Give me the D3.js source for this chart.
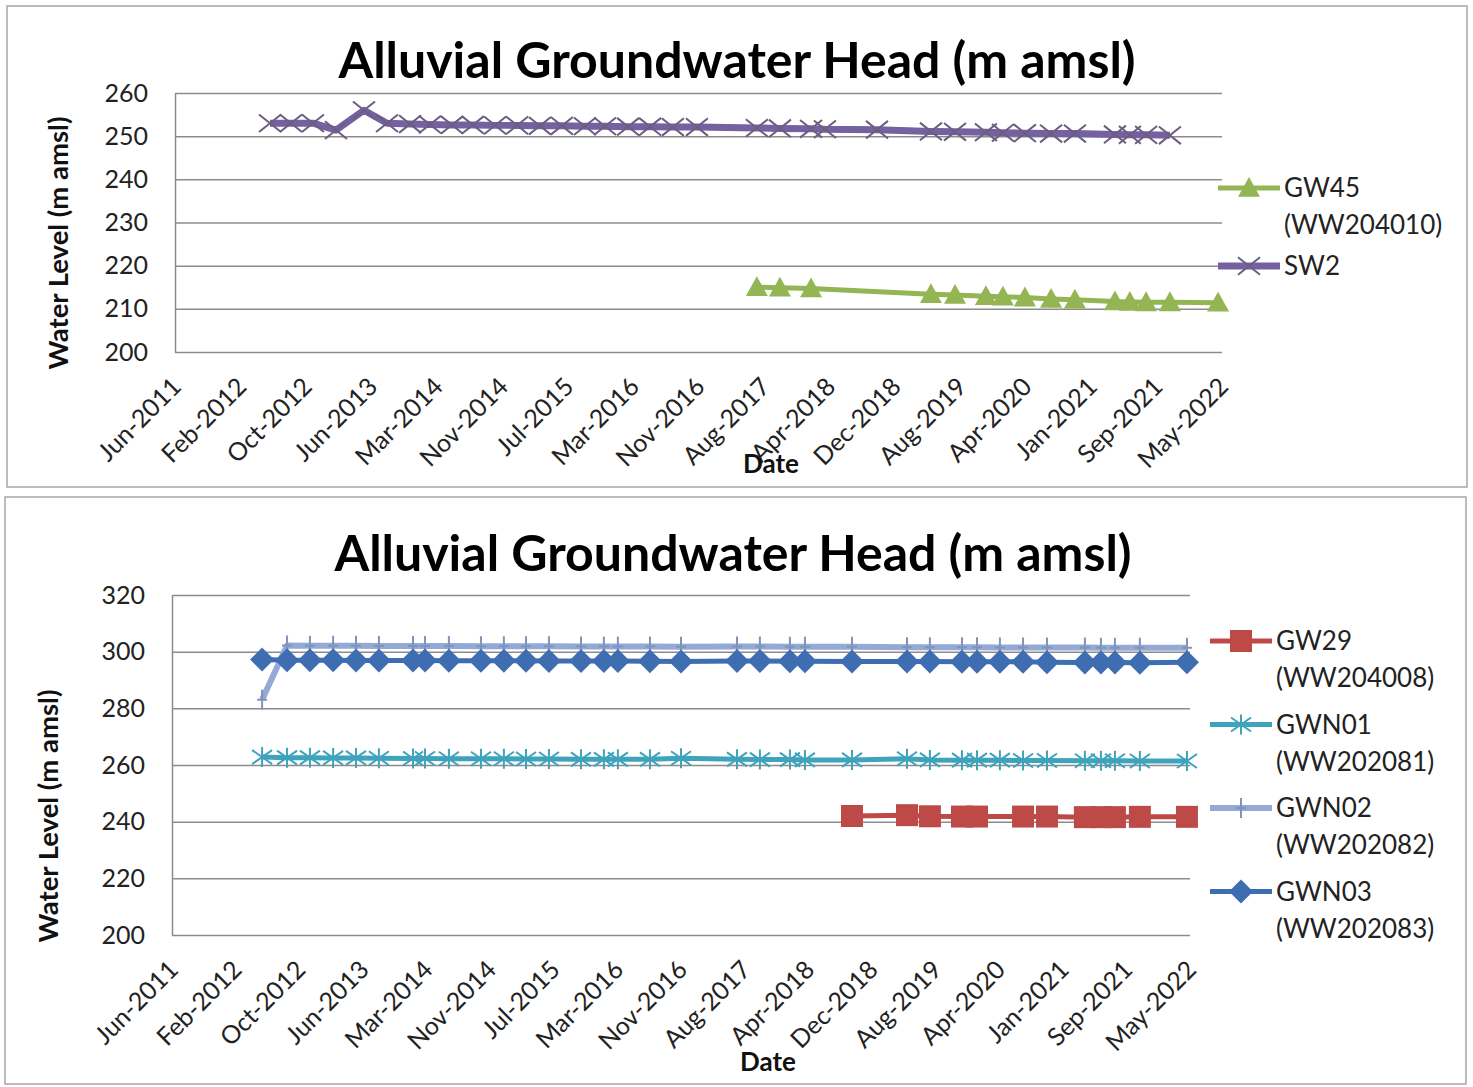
<!DOCTYPE html>
<html>
<head>
<meta charset="utf-8">
<script src="https://d3js.org/d3.v7.min.js"></script>
<style>
  body { margin: 0; background: #fff; }
</style>
</head>
<body>
<div class="chart"></div>
<script>
var svgWidth = 1473;
var svgHeight = 1087;
var fontFamily = "Lato, 'Open Sans', sans-serif";

// x axis: Excel date axis, one label every 250 days from 5 Jun 2011
var axisStartDate = "2011-06-05";
var tickStepDays = 250;
var xTickLabels = ["Jun-2011", "Feb-2012", "Oct-2012", "Jun-2013", "Mar-2014", "Nov-2014",
  "Jul-2015", "Mar-2016", "Nov-2016", "Aug-2017", "Apr-2018", "Dec-2018", "Aug-2019",
  "Apr-2020", "Jan-2021", "Sep-2021", "May-2022"];

// ---- top chart ----
var topYTicks = [200, 210, 220, 230, 240, 250, 260];

var sw2Dates = ["2012-06-02", "2012-08-21", "2012-11-13", "2013-02-09", "2013-05-27", "2013-08-23",
  "2013-11-19", "2014-02-03", "2014-04-28", "2014-07-17", "2014-10-10", "2015-01-02", "2015-03-30",
  "2015-06-22", "2015-09-18", "2015-12-04", "2016-03-01", "2016-05-24", "2016-08-19", "2016-11-19",
  "2017-07-06", "2017-10-02", "2018-01-29", "2018-03-23", "2018-10-08", "2019-05-02", "2019-08-02",
  "2019-11-28", "2020-02-01", "2020-04-25", "2020-08-03", "2020-11-02", "2021-04-04", "2021-05-31",
  "2021-08-01", "2021-10-31"];
var sw2Levels = [253.0, 253.0, 253.0, 251.4, 256.0, 253.0, 252.8, 252.7, 252.6, 252.6, 252.5, 252.5,
  252.4, 252.4, 252.3, 252.3, 252.2, 252.2, 252.1, 252.1, 251.9, 251.8, 251.7, 251.6, 251.5, 251.1,
  251.0, 250.9, 250.8, 250.7, 250.6, 250.6, 250.4, 250.3, 250.3, 250.2];

var gw45Dates = ["2017-07-06", "2017-10-02", "2018-01-29", "2019-05-02", "2019-08-02", "2019-11-28",
  "2020-02-01", "2020-04-25", "2020-08-03", "2020-11-02", "2021-04-04", "2021-05-31", "2021-08-01",
  "2021-10-31", "2022-05-03"];
var gw45Levels = [215.0, 214.9, 214.7, 213.4, 213.2, 212.9, 212.8, 212.6, 212.3, 212.1, 211.7, 211.6,
  211.5, 211.5, 211.4];

// ---- bottom chart ----
var bottomYTicks = [200, 220, 240, 260, 280, 300, 320];

var gwnDates = ["2012-05-24", "2012-08-30", "2012-11-28", "2013-02-27", "2013-05-28", "2013-08-26",
  "2014-01-07", "2014-02-23", "2014-05-28", "2014-10-01", "2014-12-30", "2015-03-27", "2015-06-25",
  "2015-10-29", "2016-01-27", "2016-03-22", "2016-07-26", "2016-11-25", "2017-07-03", "2017-10-01",
  "2018-01-27", "2018-03-27", "2018-09-28", "2019-05-02", "2019-07-31", "2019-12-04", "2020-02-01",
  "2020-05-01", "2020-07-31", "2020-11-02", "2021-03-31", "2021-06-02", "2021-07-27", "2021-11-02",
  "2022-05-06"];
var gwn01Levels = [262.8, 262.6, 262.6, 262.5, 262.5, 262.4, 262.3, 262.3, 262.2, 262.2, 262.2, 262.1,
  262.1, 262.0, 262.0, 262.0, 262.0, 262.4, 262.0, 261.9, 261.9, 261.8, 261.8, 262.2, 261.8, 261.7,
  261.7, 261.7, 261.6, 261.6, 261.5, 261.5, 261.5, 261.4, 261.4];
var gwn02Levels = [283.0, 302.2, 302.1, 302.1, 302.1, 302.0, 302.0, 302.0, 302.0, 301.9, 301.9, 301.9,
  301.9, 301.8, 301.8, 301.8, 301.8, 301.7, 301.8, 301.8, 301.7, 301.7, 301.7, 301.6, 301.6, 301.6,
  301.6, 301.5, 301.5, 301.5, 301.5, 301.4, 301.4, 301.4, 301.4];
var gwn03Levels = [297.2, 297.0, 297.0, 297.0, 296.9, 296.9, 296.9, 296.9, 296.8, 296.8, 296.8, 296.8,
  296.7, 296.7, 296.7, 296.7, 296.6, 296.5, 296.7, 296.7, 296.6, 296.6, 296.5, 296.5, 296.5, 296.4,
  296.4, 296.4, 296.4, 296.3, 296.2, 296.2, 296.2, 296.1, 296.3];

var gw29Dates = ["2018-09-28", "2019-05-02", "2019-07-31", "2019-12-04", "2020-02-01", "2020-07-31",
  "2020-11-02", "2021-03-31", "2021-06-02", "2021-07-27", "2021-11-02", "2022-05-06"];
var gw29Levels = [242.0, 242.3, 241.9, 241.8, 241.8, 241.8, 241.8, 241.6, 241.6, 241.6, 241.7, 241.7];

// --------------------------------------------------------------
var parseDate = d3.timeParse("%Y-%m-%d");
var axisStart = parseDate(axisStartDate);
var tickDates = xTickLabels.map(function(d, i) {
  return d3.timeDay.offset(axisStart, i * tickStepDays);
});
var axisEnd = tickDates[tickDates.length - 1];

function zipSeries(dates, levels) {
  return dates.map(function(d, i) {
    return { date: parseDate(d), value: levels[i] };
  });
}

// marker shapes, centred on 0,0
function markerPath(type, s) {
  var h = s / 2;
  if (type === "triangle") return `M0,${-h} L${h},${h * 0.8} L${-h},${h * 0.8} Z`;
  if (type === "square") return `M${-h},${-h} H${h} V${h} H${-h} Z`;
  if (type === "diamond") return `M0,${-h} L${h},0 L0,${h} L${-h},0 Z`;
  if (type === "x") return `M${-h},${-h * 0.8} L${h},${h * 0.8} M${-h},${h * 0.8} L${h},${-h * 0.8}`;
  if (type === "star") return `M${-h},${-h * 0.7} L${h},${h * 0.7} M${-h},${h * 0.7} L${h},${-h * 0.7} M0,${-h} L0,${h}`;
  if (type === "plus") return `M0,${-h} L0,${h} M${-h * 0.5},0 L${h * 0.5},0`;
  return "";
}

var svg = d3.select(".chart")
  .append("svg")
  .attr("width", svgWidth)
  .attr("height", svgHeight);

svg.append("rect")
  .attr("width", svgWidth)
  .attr("height", svgHeight)
  .attr("fill", "#fff");

function drawChart(cfg) {
  var g = svg.append("g");

  // panel frame
  g.append("rect")
    .attr("x", cfg.panel[0])
    .attr("y", cfg.panel[1])
    .attr("width", cfg.panel[2])
    .attr("height", cfg.panel[3])
    .attr("fill", "#fff")
    .attr("stroke", "#a6a6a6")
    .attr("stroke-width", 1.5);

  var xScale = d3.scaleTime()
    .domain([axisStart, axisEnd])
    .range([cfg.left, cfg.right]);

  var yScale = d3.scaleLinear()
    .domain(d3.extent(cfg.yTicks))
    .range([cfg.bottom, cfg.top]);

  // horizontal gridlines
  var grid = g.append("g")
    .attr("transform", `translate(${cfg.left},0)`)
    .call(d3.axisLeft(yScale).tickValues(cfg.yTicks).tickSize(-(cfg.right - cfg.left)).tickFormat(""));
  grid.select(".domain").remove();
  grid.selectAll("line").attr("stroke", "#8c8c8c").attr("stroke-width", 1.5);

  // y axis
  var yAxis = g.append("g")
    .attr("transform", `translate(${cfg.left},0)`)
    .call(d3.axisLeft(yScale).tickValues(cfg.yTicks).tickSize(0).tickPadding(27));
  yAxis.attr("font-family", fontFamily).attr("font-size", 25).attr("color", "#222");
  yAxis.select(".domain").attr("stroke", "#8c8c8c").attr("stroke-width", 1.5);

  // x axis labels, rotated
  var xAxis = g.append("g")
    .attr("transform", `translate(0,${cfg.bottom})`)
    .call(d3.axisBottom(xScale).tickValues(tickDates).tickSize(0)
      .tickFormat(function(d, i) { return xTickLabels[i]; }));
  xAxis.attr("font-family", fontFamily).attr("font-size", 25).attr("color", "#222");
  xAxis.select(".domain").remove();
  xAxis.selectAll("text")
    .attr("x", 0)
    .attr("y", 0)
    .attr("dy", "0.35em")
    .attr("text-anchor", "end")
    .attr("transform", "translate(1,30) rotate(-45)");

  // titles
  g.append("text")
    .attr("x", cfg.titleX)
    .attr("y", cfg.titleY)
    .attr("text-anchor", "middle")
    .attr("font-family", fontFamily)
    .attr("font-weight", "bold")
    .attr("font-size", 50)
    .attr("fill", "#000")
    .text("Alluvial Groundwater Head (m amsl)");

  g.append("text")
    .attr("transform", `translate(${cfg.yTitleX},${cfg.yTitleY}) rotate(-90)`)
    .attr("text-anchor", "middle")
    .attr("font-family", fontFamily)
    .attr("font-weight", "bold")
    .attr("font-size", 27.5)
    .attr("fill", "#111")
    .text("Water Level (m amsl)");

  g.append("text")
    .attr("x", cfg.dateX)
    .attr("y", cfg.dateY)
    .attr("text-anchor", "middle")
    .attr("font-family", fontFamily)
    .attr("font-weight", "bold")
    .attr("font-size", 26)
    .attr("fill", "#111")
    .text("Date");

  var line = d3.line()
    .x(d => xScale(d.date))
    .y(d => yScale(d.value));

  // series lines + markers
  cfg.series.forEach(function(s) {
    var data = zipSeries(s.dates, s.values);
    var sg = g.append("g");

    sg.append("path")
      .datum(data)
      .attr("d", line)
      .attr("fill", "none")
      .attr("stroke", s.color)
      .attr("stroke-width", s.width)
      .attr("stroke-linejoin", "round");

    sg.selectAll("path.marker")
      .data(data)
      .enter()
      .append("path")
      .attr("class", "marker")
      .attr("transform", d => `translate(${xScale(d.date)},${yScale(d.value)})`)
      .attr("d", markerPath(s.marker, s.markerSize))
      .attr("fill", s.filled ? s.markerColor : "none")
      .attr("stroke", s.filled ? "none" : s.markerColor)
      .attr("stroke-width", s.filled ? 0 : 2);
  });

  // legend
  var legend = g.selectAll("g.legend")
    .data(cfg.series)
    .enter()
    .append("g")
    .attr("class", "legend")
    .attr("transform", (d, i) => `translate(${cfg.legendX},${cfg.legendY + i * cfg.legendStep})`);

  legend.append("line")
    .attr("x1", 0)
    .attr("x2", 62)
    .attr("stroke", d => d.color)
    .attr("stroke-width", d => d.width);

  legend.append("path")
    .attr("transform", "translate(31,0)")
    .attr("d", d => markerPath(d.marker, d.markerSize))
    .attr("fill", d => d.filled ? d.markerColor : "none")
    .attr("stroke", d => d.filled ? "none" : d.markerColor)
    .attr("stroke-width", d => d.filled ? 0 : 2);

  var lt = legend.append("text")
    .attr("x", 66)
    .attr("y", 9)
    .attr("font-family", fontFamily)
    .attr("font-size", 26)
    .attr("fill", "#222");
  lt.append("tspan").text(d => d.name);
  lt.filter(d => d.sub)
    .append("tspan")
    .attr("x", 66)
    .attr("dy", 37)
    .text(d => d.sub);
}

drawChart({
  panel: [7, 6, 1460, 481],
  left: 175, right: 1222, top: 93, bottom: 352,
  yTicks: topYTicks,
  titleX: 737, titleY: 78,
  yTitleX: 68, yTitleY: 243,
  dateX: 771, dateY: 473,
  legendX: 1218, legendY: 188, legendStep: 78,
  series: [
    { name: "GW45", sub: "(WW204010)", dates: gw45Dates, values: gw45Levels, color: "#93b553",
      width: 5, marker: "triangle", markerSize: 22, markerColor: "#93b553", filled: true },
    { name: "SW2", sub: null, dates: sw2Dates, values: sw2Levels, color: "#7560a0",
      width: 7, marker: "x", markerSize: 22, markerColor: "#6b5e82", filled: false }
  ]
});

drawChart({
  panel: [5, 497, 1461, 587],
  left: 172, right: 1190, top: 595, bottom: 935,
  yTicks: bottomYTicks,
  titleX: 733, titleY: 571,
  yTitleX: 58, yTitleY: 816,
  dateX: 768, dateY: 1071,
  legendX: 1210, legendY: 641, legendStep: 83.5,
  series: [
    { name: "GW29", sub: "(WW204008)", dates: gw29Dates, values: gw29Levels, color: "#bd4a47",
      width: 5, marker: "square", markerSize: 22, markerColor: "#bd4a47", filled: true },
    { name: "GWN01", sub: "(WW202081)", dates: gwnDates, values: gwn01Levels, color: "#3ea3bb",
      width: 5, marker: "star", markerSize: 20, markerColor: "#3ea3bb", filled: false },
    { name: "GWN02", sub: "(WW202082)", dates: gwnDates, values: gwn02Levels, color: "#93a9d6",
      width: 6, marker: "plus", markerSize: 20, markerColor: "#8093bb", filled: false },
    { name: "GWN03", sub: "(WW202083)", dates: gwnDates, values: gwn03Levels, color: "#3f6db2",
      width: 5, marker: "diamond", markerSize: 24, markerColor: "#3f6db2", filled: true }
  ]
});
</script>
</body>
</html>
